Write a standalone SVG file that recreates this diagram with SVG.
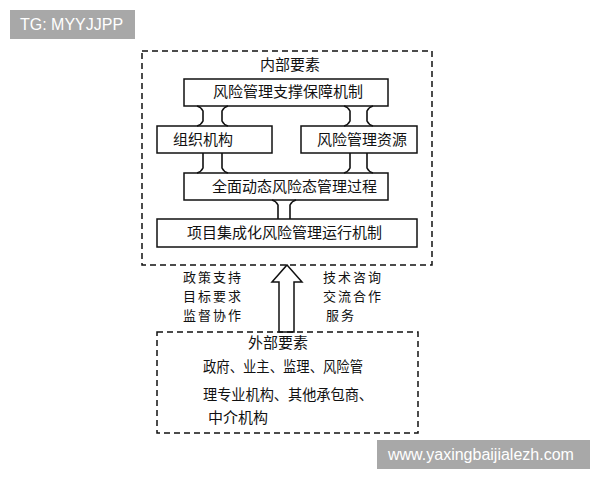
<svg xmlns="http://www.w3.org/2000/svg" width="600" height="480" viewBox="0 0 600 480">
<style>
.dash{fill:none;stroke:#111;stroke-width:1.5;stroke-dasharray:6 4}
.box{fill:#fff;stroke:#111;stroke-width:1.5}
.t{font-family:"Noto Sans CJK SC","Noto Sans CJK JP",sans-serif;font-size:15px;fill:#111}
.s{font-size:13px}
.c{text-anchor:middle}
.ln{fill:none;stroke:#111;stroke-width:1.6}
.wm{fill:#a8a8a8}
.wt{font-family:"Liberation Sans",Arial,sans-serif;font-size:16px;fill:#fff}
</style>
<rect width="600" height="480" fill="#fff"/>
<g id="watermark-top"><rect class="wm" x="10" y="10" width="125" height="29"/><text class="wt" x="20" y="30">TG: MYYJJPP</text></g>
<g id="internal">
<rect class="dash" x="142" y="51" width="290" height="214"/>
<text class="t c" x="290" y="70">内部要素</text>
</g>
<g id="n-support"><rect class="box" x="184" y="79" width="204" height="27"/><text class="t c" x="288" y="97">风险管理支撑保障机制</text></g>
<g id="n-org"><rect class="box" x="157" y="126" width="115" height="27"/><text class="t" x="173" y="145">组织机构</text></g>
<g id="n-res"><rect class="box" x="301" y="126" width="116" height="27"/><text class="t" x="317" y="145">风险管理资源</text></g>
<g id="n-process"><rect class="box" x="184" y="173" width="204" height="27"/><text class="t" x="212" y="192">全面动态风险态管理过程</text></g>
<g id="n-mech"><rect class="box" x="157" y="219" width="260" height="28"/><text class="t" x="187" y="238">项目集成化风险管理运行机制</text></g>
<g id="connectors">
<path class="ln" d="M197,106 Q201,107 203,111 L203,121 Q201,125 197,126 M228,106 Q224,107 222,111 L222,121 Q224,125 228,126"/>
<path class="ln" d="M344,106 Q348,107 350,111 L350,121 Q348,125 344,126 M373,106 Q369,107 367,111 L367,121 Q369,125 373,126"/>
<path class="ln" d="M203,153 L203,168 Q201,172 197,173 M222,153 L222,168 Q224,172 228,173"/>
<path class="ln" d="M350,153 L350,168 Q348,172 344,173 M367,153 L367,168 Q369,172 373,173"/>
<path class="ln" d="M278,219 L278,205 Q276,201 272,200 M290,219 L290,205 Q292,201 296,200"/>
<polygon points="287,265 302,282 294,282 294,332 279,332 279,282 272,282" fill="#fff" stroke="#111" stroke-width="1.5" stroke-linejoin="miter"/>
</g>
<g id="labels-left">
<text class="t s" x="183" y="282" textLength="58" lengthAdjust="spacing">政策支持</text>
<text class="t s" x="183" y="301" textLength="58" lengthAdjust="spacing">目标要求</text>
<text class="t s" x="183" y="320" textLength="58" lengthAdjust="spacing">监督协作</text>
</g>
<g id="labels-right">
<text class="t s" x="323" y="282" textLength="58" lengthAdjust="spacing">技术咨询</text>
<text class="t s" x="323" y="301" textLength="58" lengthAdjust="spacing">交流合作</text>
<text class="t s" x="326" y="320" textLength="28" lengthAdjust="spacing">服务</text>
</g>
<g id="external">
<rect class="dash" x="157" y="332" width="261" height="101"/>
<text class="t" x="248" y="348">外部要素</text>
<text class="t" x="203" y="372" textLength="160" lengthAdjust="spacingAndGlyphs">政府、业主、监理、风险管</text>
<text class="t" x="203" y="400" textLength="170" lengthAdjust="spacingAndGlyphs">理专业机构、其他承包商、</text>
<text class="t" x="208" y="423">中介机构</text>
</g>
<g id="watermark-bottom"><rect class="wm" x="377" y="440" width="213" height="29"/><text class="wt" x="388" y="460">www.yaxingbaijialezh.com</text></g>
</svg>
